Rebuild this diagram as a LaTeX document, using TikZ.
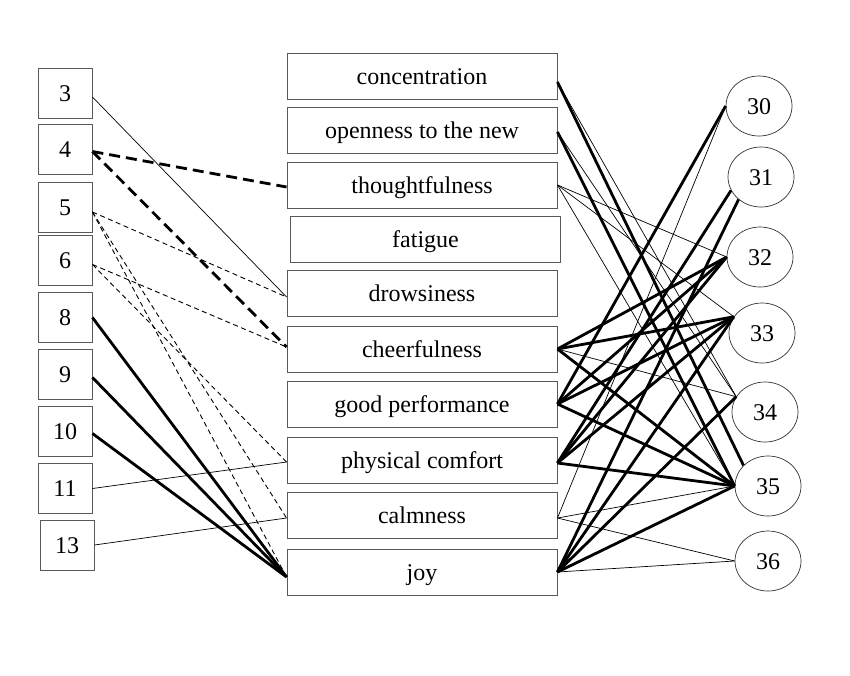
\documentclass[tikz,border=0pt]{standalone}
\usepackage{fontspec}
\setmainfont{Liberation Serif}
\usetikzlibrary{shapes.geometric}
\begin{document}
\begin{tikzpicture}[x=1pt,y=-1pt,
  txt/.style={font=\fontsize{24}{28}\selectfont,text height=16pt,text depth=0pt},
  lbox/.style={txt,draw=black!65,line width=0.9pt,minimum width=54pt,minimum height=50pt,inner sep=0pt},
  mbox/.style={txt,draw=black!65,line width=0.9pt,minimum width=270pt,minimum height=46pt,inner sep=0pt},
  circ/.style={txt,ellipse,draw=black!80,line width=0.7pt,minimum width=66pt,minimum height=60pt,inner sep=0pt},
  lthin/.style={line width=0.7pt},
  lthick/.style={line width=2.8pt},
  ldash/.style={line width=0.9pt,dash pattern=on 5pt off 3.5pt},
  lthickdash/.style={line width=2.8pt,dash pattern=on 11pt off 6pt}
]
\useasboundingbox[fill=white] (0,0) rectangle (850,675);
% left boxes
\node[lbox] (b3) at (65,93) {3};
\node[lbox] (b4) at (65,149.5) {4};
\node[lbox] (b5) at (65,207) {5};
\node[lbox] (b6) at (65,260.5) {6};
\node[lbox] (b8) at (65,317.5) {8};
\node[lbox] (b9) at (65,374.5) {9};
\node[lbox] (b10) at (65,431.5) {10};
\node[lbox] (b11) at (65,488.5) {11};
\node[lbox] (b13) at (67,545) {13};
% middle boxes
\node[mbox] (conc) at (422,76) {concentration};
\node[mbox] (open) at (422,130) {openness to the new};
\node[mbox] (thou) at (422,185) {thoughtfulness};
\node[mbox] (fat) at (425.5,239) {fatigue};
\node[mbox] (drow) at (422,293) {drowsiness};
\node[mbox] (chee) at (422,349) {cheerfulness};
\node[mbox] (good) at (422,404) {good performance};
\node[mbox] (phys) at (422,460) {physical comfort};
\node[mbox] (calm) at (422,515) {calmness};
\node[mbox] (joy) at (422,572) {joy};
% circles
\node[circ] (c30) at (759,106) {30};
\node[circ] (c31) at (761,177) {31};
\node[circ] (c32) at (760,257) {32};
\node[circ] (c33) at (762,333) {33};
\node[circ] (c34) at (765,412) {34};
\node[circ] (c35) at (768,486) {35};
\node[circ] (c36) at (768,561) {36};
% left connections
\draw[lthin] ([yshift=-4pt]b3.east) -- ([yshift=-4pt]drow.west);
\draw[lthickdash] ([yshift=-2pt]b4.east) -- ([yshift=-2pt]thou.west);
\draw[lthickdash] ([yshift=-2pt]b4.east) -- ([yshift=2pt]chee.west);
\draw[ldash] ([yshift=-5pt]b5.east) -- ([yshift=-4pt]drow.west);
\draw[ldash] ([yshift=-5pt]b5.east) -- ([yshift=-3pt]calm.west);
\draw[ldash] ([yshift=-5pt]b5.east) -- ([yshift=-5pt]joy.west);
\draw[ldash] ([yshift=-4pt]b6.east) -- ([yshift=2pt]chee.west);
\draw[ldash] ([yshift=-4pt]b6.east) -- ([yshift=-2pt]phys.west);
\draw[lthick] (b8.east) -- ([yshift=-5pt]joy.west);
\draw[lthick] ([yshift=-3pt]b9.east) -- ([yshift=-5pt]joy.west);
\draw[lthick] ([yshift=-2pt]b10.east) -- ([yshift=-5pt]joy.west);
\draw[lthin] (b11.east) -- ([yshift=-2pt]phys.west);
\draw[lthin] (b13.east) -- ([yshift=-3pt]calm.west);
% right connections
\draw[lthick] ([yshift=-6pt]conc.east) -- (c35.140);
\draw[lthin] ([yshift=-6pt]conc.east) -- (c34.152);
\draw[lthick] ([yshift=-2pt]open.east) -- (c35.west);
\draw[lthin] ([yshift=-2pt]open.east) -- (c34.152);
\draw[lthin] (thou.east) -- (c32.west);
\draw[lthin] (thou.east) -- (c33.150);
\draw[lthin] (thou.east) -- (c35.west);
\draw[lthick] (chee.east) -- (c32.west);
\draw[lthick] (chee.east) -- (c33.150);
\draw[lthin] (chee.east) -- (c34.152);
\draw[lthick] (chee.east) -- (c35.west);
\draw[lthick] (good.east) -- (c30.west);
\draw[lthick] (good.east) -- (c32.west);
\draw[lthick] (good.east) -- (c33.150);
\draw[lthick] (good.east) -- (c35.west);
\draw[lthick] ([yshift=-3pt]phys.east) -- (c31.204);
\draw[lthick] ([yshift=-3pt]phys.east) -- (c32.west);
\draw[lthick] ([yshift=-3pt]phys.east) -- (c33.150);
\draw[lthick] ([yshift=-3pt]phys.east) -- (c35.west);
\draw[lthin] ([yshift=-3pt]calm.east) -- (c30.west);
\draw[lthin] ([yshift=-3pt]calm.east) -- (c35.west);
\draw[lthin] ([yshift=-3pt]calm.east) -- (c36.west);
\draw[lthick] (joy.east) -- (c31.225);
\draw[lthick] (joy.east) -- (c33.150);
\draw[lthick] (joy.east) -- (c34.152);
\draw[lthick] (joy.east) -- (c35.west);
\draw[lthin] (joy.east) -- (c36.west);
\end{tikzpicture}
\end{document}
